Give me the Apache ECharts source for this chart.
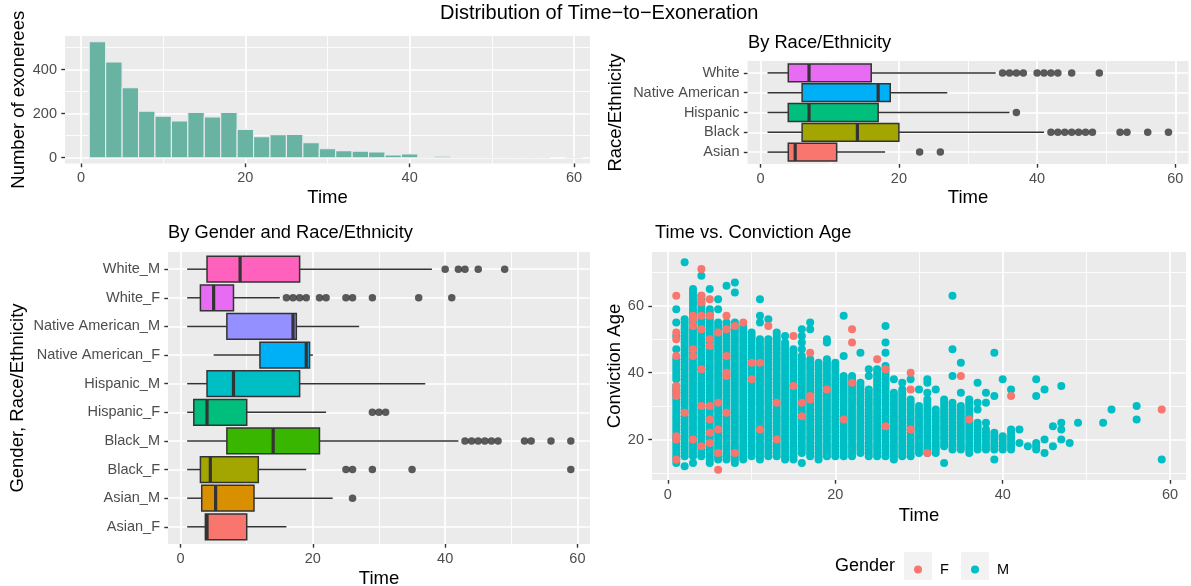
<!DOCTYPE html>
<html>
<head>
<meta charset="utf-8">
<title>Distribution of Time-to-Exoneration</title>
<script src="https://cdn.jsdelivr.net/npm/echarts@6/dist/echarts.min.js"></script>
<style>
  html, body { margin: 0; padding: 0; background: #ffffff; }
  #chart { width: 1191px; height: 586px; }
</style>
</head>
<body>
<div id="chart"></div>
<script>
// ---------- data ----------
// Histogram of years to exoneration: bins of width 2 starting at 1
const histBinStart = [1, 3, 5, 7, 9, 11, 13, 15, 17, 19, 21, 23, 25, 27, 29,
                      31, 33, 35, 37, 39, 41, 43, 45, 47, 49, 51, 53, 55, 57, 59];
const histBinWidth = 2;
const histCounts = [527, 435, 318, 212, 189, 167, 206, 185, 206, 129, 95, 105, 106, 68, 41,
                    32, 30, 26, 12, 17, 2, 7, 3, 3, 1, 1, 1, 2, 0, 2];

// Box plot by race/ethnicity: [lower whisker, Q1, median, Q3, upper whisker]
const raceNames = ['Asian', 'Black', 'Hispanic', 'Native American', 'White'];
const raceColors = ['#F8766D', '#A3A500', '#00BF7D', '#00B0F6', '#E76BF3'];
const raceStats = [
  [1, 4, 5, 11, 18],
  [1, 6, 14, 20, 41],
  [1, 4, 7, 17, 36],
  [1, 6, 17, 18.75, 27],
  [1, 4, 7, 16, 34]
];
const raceOutliers = [
  [23, 26],
  [42, 43, 44, 45, 46, 47, 48, 52, 53, 56, 59],
  [37],
  [],
  [35, 36, 37, 38, 40, 41, 42, 43, 45, 49]
];

// Box plot by race/ethnicity and gender
const groupNames = ['Asian_F', 'Asian_M', 'Black_F', 'Black_M', 'Hispanic_F', 'Hispanic_M',
                    'Native American_F', 'Native American_M', 'White_F', 'White_M'];
const groupColors = ['#F8766D', '#D89000', '#A3A500', '#39B600', '#00BF7D', '#00BFC4',
                     '#00B0F6', '#9590FF', '#E76BF3', '#FF62BC'];
const groupStats = [
  [1, 3.75, 4, 10, 16],
  [1, 3.2, 5.3, 11.1, 23],
  [1, 3, 4.5, 11.75, 19],
  [1, 7, 14, 21, 42],
  [1, 2, 4, 10, 22],
  [1, 4, 8, 18, 37],
  [5, 12, 19, 19.5, 20],
  [1, 7, 17, 17.5, 27],
  [1, 3, 5, 8, 15],
  [1, 4, 9, 18, 38]
];
const groupOutliers = [
  [],
  [26],
  [25, 26, 29, 35, 59],
  [43, 44, 45, 46, 47, 48, 52, 53, 56, 59],
  [29, 30, 31],
  [],
  [],
  [],
  [16, 17, 18, 19, 21, 22, 25, 26, 29, 36, 41],
  [40, 42, 43, 45, 49]
];

// Time vs. conviction age. Male points: for each time, the ages present,
// written as runs ("15-40" = every age from 15 to 40)
const scatterTimesM = [1, 2, 3, 4, 5, 6, 7, 8, 9, 10, 11, 12, 13, 14, 15, 16, 17, 18, 19, 20,
                       21, 22, 23, 24, 25, 26, 27, 28, 29, 30, 31, 32, 33, 34, 35, 36, 37, 38, 39, 40,
                       41, 42, 43, 44, 45, 46, 47, 48, 49, 52, 53, 56, 59];
const scatterAgeRunsM = [
  '13-36,38-44,47,51,55,59', '12,15-56,73', '13,15-65', '15-63,69', '13-59,65',
  '14-55,59,62', '14-55,66', '13-55,64,67', '14-54', '15-52',
  '14-50,55,57,62', '15-50,56', '15-52', '14-49,51', '14-47',
  '13,16-45,47,49,51,53', '15-44,53,55', '14-43', '15-44,49,50', '15-43',
  '15-39,45,57', '15-39', '16-37,46', '15-35,39,41', '15-41',
  '15-42,46,49,54', '14-34,38', '15-35,37', '15-32,38', '16-30,35',
  '16-32,34,37,38', '16-29,35', '13,18-32', '17-31,39,47,63', '17-30,34,43',
  '16-32', '17-25,29,31,37', '17-23,25,31,34', '14,17-22,33,46', '17-21,38',
  '17-23,35', '19,23', '18', '17-19,33,38', '16,20,35',
  '18,24', '20,23,25,36', '19', '25', '25',
  '29', '26,30', '14'
];
// Female points
const scatterTimesF = [1, 2, 3, 4, 5, 6, 7, 8, 9, 10, 11, 12, 13, 15, 16, 17, 19, 21, 22,
                       25, 26, 29, 31, 35, 36, 41, 59];
const scatterAgesF = [
  [14, 20, 21, 33, 34, 35, 36, 45, 50, 52, 63],
  [28],
  [20, 45, 47, 54, 56, 57],
  [18, 30, 41, 53, 57, 61, 63, 71],
  [19, 22, 26, 30, 48, 50, 57, 62],
  [11, 16, 23, 31, 52],
  [28, 39, 40, 45, 53, 57],
  [16, 54],
  [55],
  [38, 43],
  [23, 43],
  [54],
  [20, 31],
  [36, 51],
  [27, 31],
  [32, 33, 46],
  [35],
  [26],
  [37, 49, 53],
  [44],
  [24, 41],
  [23, 35, 40],
  [16],
  [39],
  [26],
  [33],
  [29]
];

const timeTicks = [0, 20, 40, 60];

// ---------- helpers ----------
const FONT = '"Liberation Sans", Arial, Helvetica, sans-serif';
const TICK_COLOR = '#4D4D4D';

function expandRuns(text) {
  const ages = [];
  text.split(',').forEach(function (part) {
    const ends = part.split('-').map(Number);
    if (ends.length === 1) { ages.push(ends[0]); }
    else { for (let a = ends[0]; a <= ends[1]; a++) ages.push(a); }
  });
  return ages;
}

const pointsM = [];
scatterTimesM.forEach(function (t, i) {
  expandRuns(scatterAgeRunsM[i]).forEach(function (a) { pointsM.push([t, a]); });
});
const pointsF = [];
scatterTimesF.forEach(function (t, i) {
  scatterAgesF[i].forEach(function (a) { pointsF.push([t, a]); });
});

const histData = histBinStart.map(function (x0, i) {
  return [x0, x0 + histBinWidth, histCounts[i]];
}).filter(function (d) { return d[2] > 0; });

function boxRows(stats) {
  return stats.map(function (s, i) { return [i + 1].concat(s); });
}
function outlierPoints(outliers) {
  const pts = [];
  outliers.forEach(function (list, i) {
    list.forEach(function (v) { pts.push([v, i + 1]); });
  });
  return pts;
}

function axisName(text, gap) {
  return {
    name: text, nameLocation: 'middle', nameGap: gap,
    nameTextStyle: { color: '#000000', fontSize: 18.5, fontFamily: FONT }
  };
}

function valueAxisBase(gridIndex, min, max, step, ticks, minor) {
  return {
    type: 'value', gridIndex: gridIndex, min: min, max: max,
    splitNumber: 3, minInterval: step, maxInterval: step,
    axisLine: { show: false, onZero: false },
    axisTick: { show: true, length: 3.7, lineStyle: { color: '#333333', width: 1.4 }, customValues: ticks },
    axisLabel: { color: TICK_COLOR, fontSize: 14.5, fontFamily: FONT, margin: 7, customValues: ticks },
    splitLine: { show: true, lineStyle: { color: '#ffffff', width: 1.7 } },
    minorTick: { show: false, splitNumber: 2 },
    minorSplitLine: { show: minor, lineStyle: { color: '#ffffff', width: 0.85 } }
  };
}

function timeAxis(gridIndex, min, max, gap) {
  return Object.assign(valueAxisBase(gridIndex, min, max, 20, timeTicks, true), axisName('Time', gap));
}

function categoryLikeAxis(gridIndex, names, title, gap) {
  const ticks = names.map(function (n, i) { return i + 1; });
  const ax = valueAxisBase(gridIndex, 0.4, names.length + 0.6, 1, ticks, false);
  ax.axisLabel.formatter = function (v) { return names[Math.round(v) - 1] || ''; };
  ax.axisLabel.margin = 8;
  return Object.assign(ax, axisName(title, gap));
}

function plainYAxis(gridIndex, min, max, step, ticks, title, gap) {
  const ax = valueAxisBase(gridIndex, min, max, step, ticks, true);
  ax.axisLabel.margin = 8;
  return Object.assign(ax, axisName(title, gap));
}

function boxRenderer(colors) {
  return function (params, api) {
    const c = api.value(0);
    const lo = api.coord([api.value(1), c]);
    const q1 = api.coord([api.value(2), c]);
    const md = api.coord([api.value(3), c]);
    const q3 = api.coord([api.value(4), c]);
    const hi = api.coord([api.value(5), c]);
    const h = api.size([0, 0.9])[1];
    const y = lo[1];
    const stroke = '#333333';
    return {
      type: 'group',
      children: [
        { type: 'line', shape: { x1: lo[0], y1: y, x2: q1[0], y2: y }, style: { stroke: stroke, lineWidth: 1.5 } },
        { type: 'line', shape: { x1: q3[0], y1: y, x2: hi[0], y2: y }, style: { stroke: stroke, lineWidth: 1.5 } },
        { type: 'rect', shape: { x: q1[0], y: y - h / 2, width: q3[0] - q1[0], height: h },
          style: { fill: colors[params.dataIndex], stroke: stroke, lineWidth: 1.5 } },
        { type: 'line', shape: { x1: md[0], y1: y - h / 2, x2: md[0], y2: y + h / 2 },
          style: { stroke: stroke, lineWidth: 3.2 } }
      ]
    };
  };
}

function histRenderer(params, api) {
  const p0 = api.coord([api.value(0), 0]);
  const p1 = api.coord([api.value(1), api.value(2)]);
  return {
    type: 'rect',
    shape: { x: p0[0], y: p1[1], width: p1[0] - p0[0], height: p0[1] - p1[1] },
    style: { fill: '#69B3A2', stroke: '#E9ECEF', lineWidth: 1.1 }
  };
}

function panelTitle(text, left, top) {
  return { text: text, left: left, top: top, padding: 0,
           textStyle: { fontSize: 18.3, fontWeight: 'normal', color: '#000000', fontFamily: FONT } };
}

function panel(left, top, width, height) {
  return { left: left, top: top, width: width, height: height, show: true,
           backgroundColor: '#EBEBEB', borderWidth: 0, containLabel: false, outerBoundsMode: 'none' };
}

// ---------- chart ----------
const chart = echarts.init(document.getElementById('chart'), null, { renderer: 'canvas' });

const option = {
  animation: false,
  backgroundColor: '#ffffff',
  title: [
    { text: 'Distribution of Time\u2212to\u2212Exoneration', left: 440, top: 3, padding: 0,
      textStyle: { fontSize: 20, fontWeight: 'normal', color: '#000000', fontFamily: FONT } },
    panelTitle('By Race/Ethnicity', 748, 34),
    panelTitle('By Gender and Race/Ethnicity', 168, 224),
    panelTitle('Time vs. Conviction Age', 655, 224),
    { text: 'Gender', left: 835, top: 557, padding: 0,
      textStyle: { fontSize: 18, fontWeight: 'normal', color: '#000000', fontFamily: FONT } }
  ],
  grid: [
    panel(65, 36, 525, 127.5),
    panel(747.5, 61, 441, 103),
    panel(168, 252, 422, 292),
    panel(652, 252, 534, 228)
  ],
  xAxis: [
    timeAxis(0, -1.95, 61.95, 25),
    timeAxis(1, -1.9, 61.9, 24),
    timeAxis(2, -1.9, 61.9, 25),
    timeAxis(3, -1.9, 61.9, 26)
  ],
  yAxis: [
    plainYAxis(0, -26.35, 553.35, 200, [0, 200, 400], 'Number of exonerees', 37),
    categoryLikeAxis(1, raceNames, 'Race/Ethnicity', 122),
    categoryLikeAxis(2, groupNames, 'Gender, Race/Ethnicity', 141),
    plainYAxis(3, 7.9, 76.1, 20, [20, 40, 60], 'Conviction Age', 26)
  ],
  legend: [
    { data: ['F'], left: 914, top: 562, padding: 0, icon: 'circle', itemWidth: 8, itemHeight: 8,
      selectedMode: false, z: 5,
      textStyle: { fontSize: 14.5, color: '#000000', fontFamily: FONT, padding: [0, 0, 0, 13] } },
    { data: ['M'], left: 971, top: 562, padding: 0, icon: 'circle', itemWidth: 8, itemHeight: 8,
      selectedMode: false, z: 5,
      textStyle: { fontSize: 14.5, color: '#000000', fontFamily: FONT, padding: [0, 0, 0, 13] } }
  ],
  graphic: [
    { type: 'rect', left: 904, top: 552, z: 1, shape: { width: 28, height: 28 }, style: { fill: '#F2F2F2' } },
    { type: 'rect', left: 961, top: 552, z: 1, shape: { width: 28, height: 28 }, style: { fill: '#F2F2F2' } }
  ],
  series: [
    { type: 'custom', name: 'count', xAxisIndex: 0, yAxisIndex: 0, renderItem: histRenderer,
      encode: { x: [0, 1], y: 2 }, data: histData },
    { type: 'custom', name: 'race', xAxisIndex: 1, yAxisIndex: 1, renderItem: boxRenderer(raceColors),
      encode: { x: [1, 2, 3, 4, 5], y: 0 }, data: boxRows(raceStats) },
    { type: 'scatter', name: 'race outliers', xAxisIndex: 1, yAxisIndex: 1, symbolSize: 7.5,
      itemStyle: { color: '#333333' }, data: outlierPoints(raceOutliers) },
    { type: 'custom', name: 'group', xAxisIndex: 2, yAxisIndex: 2, renderItem: boxRenderer(groupColors),
      encode: { x: [1, 2, 3, 4, 5], y: 0 }, data: boxRows(groupStats) },
    { type: 'scatter', name: 'group outliers', xAxisIndex: 2, yAxisIndex: 2, symbolSize: 7.5,
      itemStyle: { color: '#333333' }, data: outlierPoints(groupOutliers) },
    { type: 'scatter', name: 'M', xAxisIndex: 3, yAxisIndex: 3, symbolSize: 8,
      itemStyle: { color: '#00BFC4', opacity: 1 }, data: pointsM },
    { type: 'scatter', name: 'F', xAxisIndex: 3, yAxisIndex: 3, symbolSize: 8,
      itemStyle: { color: '#F8766D', opacity: 1 }, data: pointsF }
  ]
};

chart.setOption(option);
</script>
</body>
</html>
